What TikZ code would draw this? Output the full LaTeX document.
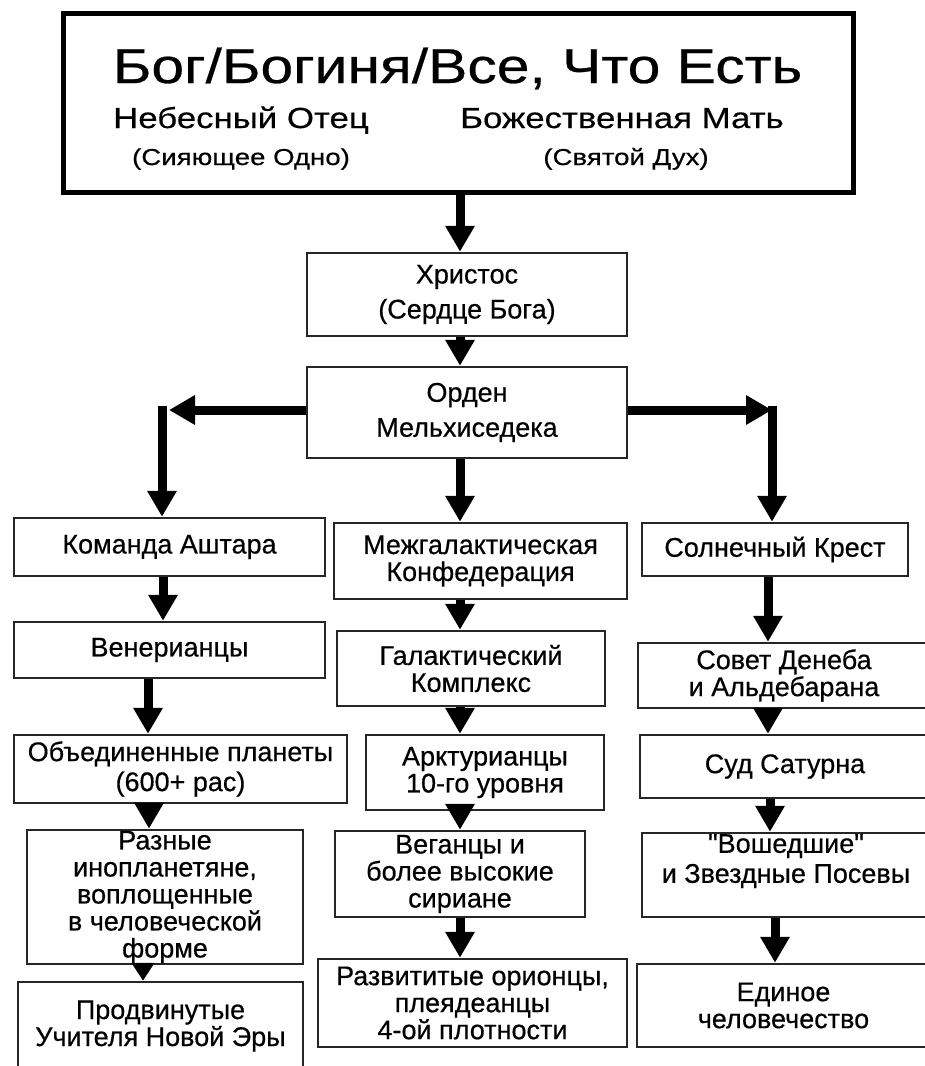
\documentclass[tikz,border=0pt]{standalone}
\usepackage{fontspec}
\setmainfont{Liberation Sans}
\newfontfamily\boxfont{Liberation Sans}[FakeBold=0.5]
\newfontfamily\topfont{Liberation Sans}[FakeStretch=1.2, FakeBold=0.5]
\usetikzlibrary{arrows.meta}
\tikzset{
  orgbox/.style={draw=black!85, line width=2.5pt, align=center, inner sep=1pt,
    font=\boxfont\fontsize{27}{27}\selectfont},
  flow/.style={line width=9pt, -{Triangle[length=26pt, width=28pt]}},
}

\begin{document}
\begin{tikzpicture}[x=1pt, y=-1pt]
  \useasboundingbox (0,0) rectangle (925,1066);
  \clip (0,0) rectangle (925,1066);
  \fill[white] (0,0) rectangle (925,1066);
  % Top box
  \node[draw, line width=5pt, minimum width=790pt, minimum height=179pt] (god) at (458,102.5) {};
  \node[anchor=base, font=\topfont\fontsize{49}{49}\selectfont] (godtitle) at (457.5,83) {Бог/Богиня/Все, Что Есть};
  \node[anchor=base, font=\topfont\fontsize{29}{29}\selectfont] (father) at (241,128) {Небесный Отец};
  \node[anchor=base, font=\topfont\fontsize{29}{29}\selectfont] (mother) at (622,128) {Божественная Мать};
  \node[anchor=base, font=\topfont\fontsize{23}{23}\selectfont] (fathersub) at (241,165) {(Сияющее Одно)};
  \node[anchor=base, font=\topfont\fontsize{23}{23}\selectfont] (mothersub) at (626,165) {(Святой Дух)};
  % Centre boxes
  \node[orgbox, minimum width=320pt, minimum height=83pt] (christ) at (467,294.5) {Христос\\[8pt](Сердце Бога)};
  \node[orgbox, minimum width=320pt, minimum height=91pt] (order) at (467,412.5) {Орден\\[8pt]Мельхиседека};
  % Left column
  \node[orgbox, minimum width=311pt, minimum height=58pt] (ashtar) at (169.5,547) {Команда Аштара};
  \node[orgbox, minimum width=311pt, minimum height=56pt] (venus) at (169.5,650) {Венерианцы};
  \node[orgbox, minimum width=333pt, minimum height=68pt] (planets) at (180.5,769) {Объединенные планеты\\[3pt](600+ рас)};
  \node[orgbox, minimum width=276pt, minimum height=134pt] (aliens) at (165,897) {Разные\\инопланетяне,\\воплощенные\\в человеческой\\форме};
  \node[orgbox, minimum width=285pt, minimum height=88pt] (teachers) at (160.5,1026) {Продвинутые\\Учителя Новой Эры};
  % Middle column
  \node[orgbox, minimum width=293pt, minimum height=76pt] (confed) at (480.5,561) {Межгалактическая\\Конфедерация};
  \node[orgbox, minimum width=268pt, minimum height=75pt] (galactic) at (471,668.5) {Галактический\\Комплекс};
  \node[orgbox, minimum width=238pt, minimum height=75pt] (arcturus) at (485,772.5) {Арктурианцы\\10-го уровня};
  \node[orgbox, minimum width=250pt, minimum height=86pt] (vega) at (460,874) {Веганцы и\\более высокие\\сириане};
  \node[orgbox, minimum width=309pt, minimum height=88pt] (orion) at (472.5,1003) {Развититые орионцы,\\плеядеанцы\\4-ой плотности};
  % Right column
  \node[orgbox, minimum width=266pt, minimum height=53pt] (solar) at (775,549.5) {Солнечный Крест};
  \node[orgbox, minimum width=292pt, minimum height=65pt] (deneb) at (784,675.5) {Совет Денеба\\и Альдебарана};
  \node[orgbox, minimum width=290pt, minimum height=63pt] (saturn) at (785,766.5) {Суд Сатурна};
  \node[orgbox, minimum width=288pt, minimum height=84pt] (walkins) at (786,875) {\textquotedbl Вошедшие\textquotedbl\\[3pt]и Звездные Посевы\\[6pt]~};
  \node[orgbox, minimum width=293pt, minimum height=83pt] (humanity) at (783.5,1005.5) {Единое\\человечество};
  % Branches from the order
  \coordinate (lefttip) at (169,410);
  \coordinate (leftturn) at (162,405.5);
  \coordinate (righttip) at (772,410);
  \coordinate (rightturn) at (772,405.5);
  \draw[flow] (order.west |- lefttip) -- (lefttip);
  \draw[flow] (leftturn) -- (ashtar.north -| leftturn);
  \draw[flow] (order.east |- righttip) -- (righttip);
  \draw[flow] (rightturn) -- (solar.north -| rightturn);
  % Vertical links
  \foreach \a/\b/\x in {god/christ/460, christ/order/460, order/confed/460,
      ashtar/venus/163, venus/planets/148, planets/aliens/149,
      confed/galactic/460, galactic/arcturus/460, arcturus/vega/460, vega/orion/460,
      solar/deneb/768, deneb/saturn/768, saturn/walkins/770, walkins/humanity/775}
    \draw[flow] (\a.south -| \x,0) -- (\b.north -| \x,0);
  \draw[flow, -{Triangle[length=18pt, width=22pt]}] (aliens.south -| 143,0) -- (teachers.north -| 143,0);
\end{tikzpicture}
\end{document}
